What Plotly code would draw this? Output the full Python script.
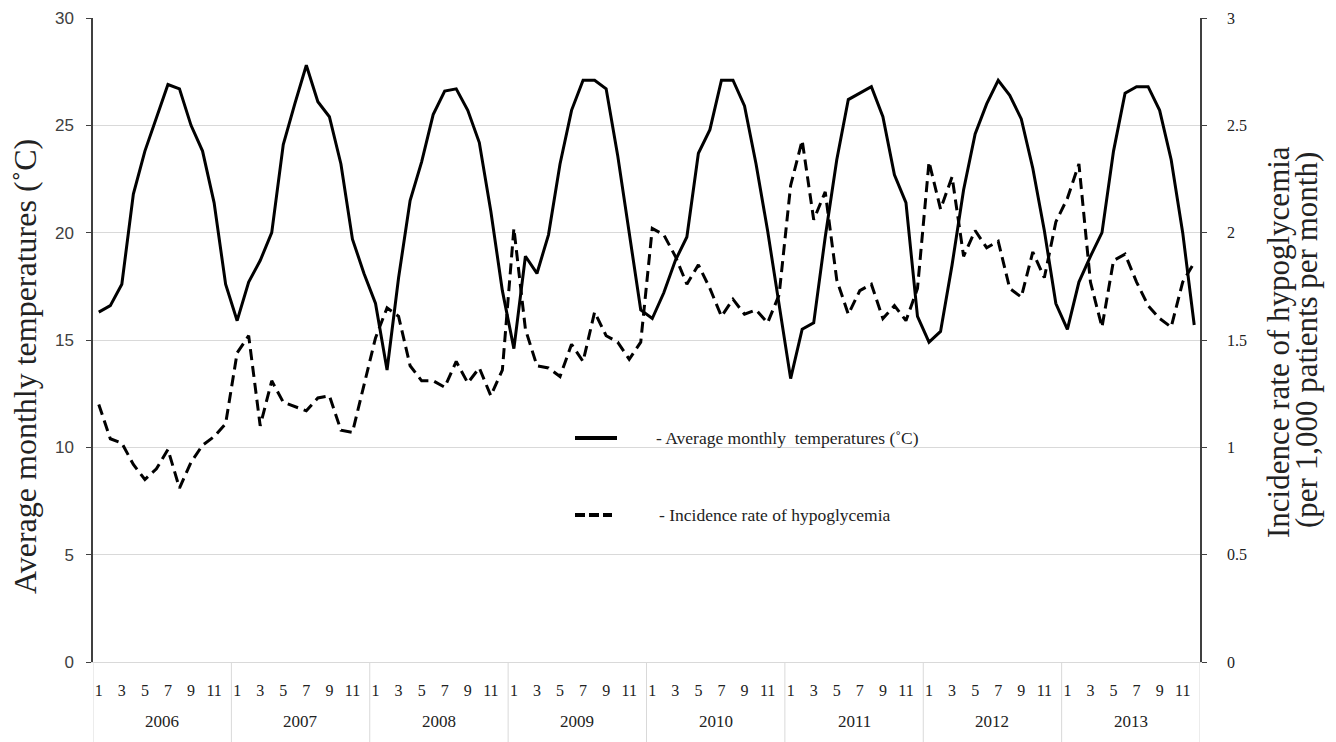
import plotly.graph_objects as go

years = [2006, 2007, 2008, 2009, 2010, 2011, 2012, 2013]
months = list(range(1, 13))

temperature = [
    16.3, 16.6, 17.6, 21.8, 23.8, 25.4, 26.9, 26.7, 25.0, 23.8, 21.4, 17.6,
    15.9, 17.7, 18.7, 20.0, 24.1, 26.0, 27.8, 26.1, 25.4, 23.2, 19.7, 18.1,
    16.7, 13.6, 17.9, 21.5, 23.3, 25.5, 26.6, 26.7, 25.7, 24.2, 21.0, 17.3,
    14.6, 18.9, 18.1, 19.9, 23.2, 25.7, 27.1, 27.1, 26.7, 23.6, 20.1, 16.4,
    16.0, 17.2, 18.7, 19.8, 23.7, 24.8, 27.1, 27.1, 25.9, 23.2, 20.1, 16.7,
    13.2, 15.5, 15.8, 19.8, 23.4, 26.2, 26.5, 26.8, 25.4, 22.7, 21.4, 16.1,
    14.9, 15.4, 18.5, 22.0, 24.6, 26.0, 27.1, 26.4, 25.3, 23.0, 20.1, 16.7,
    15.5, 17.7, 18.9, 20.0, 23.8, 26.5, 26.8, 26.8, 25.7, 23.4, 20.0, 15.7,
]

incidence = [
    1.20, 1.04, 1.02, 0.92, 0.85, 0.90, 0.99, 0.81, 0.93, 1.01, 1.05, 1.11,
    1.44, 1.52, 1.10, 1.31, 1.21, 1.19, 1.17, 1.23, 1.24, 1.08, 1.07, 1.29,
    1.51, 1.65, 1.61, 1.38, 1.31, 1.31, 1.28, 1.40, 1.30, 1.37, 1.24, 1.36,
    2.02, 1.55, 1.38, 1.37, 1.33, 1.48, 1.40, 1.63, 1.52, 1.49, 1.41, 1.49,
    2.02, 1.99, 1.89, 1.76, 1.85, 1.74, 1.61, 1.69, 1.62, 1.64, 1.58, 1.71,
    2.22, 2.43, 2.06, 2.19, 1.78, 1.62, 1.73, 1.76, 1.60, 1.66, 1.59, 1.74,
    2.33, 2.11, 2.26, 1.89, 2.01, 1.93, 1.96, 1.74, 1.70, 1.91, 1.79, 2.05,
    2.16, 2.32, 1.77, 1.56, 1.87, 1.90, 1.77, 1.66, 1.60, 1.56, 1.77, 1.86,
]

temp_name = "- Average monthly  temperatures (˚C)"
inc_name = "- Incidence rate of hypoglycemia"
left_title = "Average monthly temperatures (˚C)"
right_title_1 = "Incidence rate of hypoglycemia"
right_title_2 = "(per 1,000 patients per month)"

n = len(years) * len(months)
xs = list(range(n))
tick_idx = [i for i in xs if months[i % 12] % 2 == 1]
tick_txt = [str(months[i % 12]) for i in tick_idx]

# page has an 8px body margin: work in page pixels, convert to figure pixels
OFF = 8
W, H = 1336, 742
PLOT_L, PLOT_R, PLOT_T, PLOT_B = 93, 1200, 18, 662
ML = PLOT_L - OFF
MR = W - (PLOT_R - OFF)
MT = PLOT_T - OFF
paper_h = H - MT
ydom0 = (H - (PLOT_B - OFF)) / paper_h

def px_x(p):
    return (p - OFF - ML) / (W - ML - MR)

def px_y(p):
    return (H - (p - OFF)) / paper_h

SERIF = "Liberation Serif, Times New Roman, serif"
SANS = "Liberation Sans, Arial, sans-serif"

fig = go.Figure()
fig.add_trace(go.Scatter(x=xs, y=temperature, mode="lines", name=temp_name,
                         line=dict(color="black", width=3), yaxis="y"))
fig.add_trace(go.Scatter(x=xs, y=incidence, mode="lines", name=inc_name,
                         line=dict(color="black", width=3, dash="11px,6px"), yaxis="y2"))

shapes = []
for i in range(len(years) + 1):
    xb = 12 * i - 0.5
    shapes.append(dict(type="line", xref="x", yref="paper", x0=xb, x1=xb,
                       y0=0, y1=ydom0, line=dict(color="#d9d9d9", width=1)))
# legend samples
shapes.append(dict(type="line", xref="paper", yref="paper",
                   x0=px_x(575), x1=px_x(617), y0=px_y(438), y1=px_y(438),
                   line=dict(color="black", width=4)))
shapes.append(dict(type="line", xref="paper", yref="paper",
                   x0=px_x(575), x1=px_x(612), y0=px_y(515), y1=px_y(515),
                   line=dict(color="black", width=4, dash="10px,4px")))

def ann(text, x, y, size, xref="paper", angle=0, xanchor="center"):
    return dict(x=x, y=y, xref=xref, yref="paper", text=text, showarrow=False,
                xanchor=xanchor, yanchor="middle", textangle=angle,
                font=dict(family=SERIF, size=size, color="#222"))

annotations = []
for i, yr in enumerate(years):
    annotations.append(ann(str(yr), 12 * i + 5.5, px_y(721), 17, xref="x"))
annotations.append(ann(temp_name, px_x(654), px_y(438), 17.5, xanchor="left"))
annotations.append(ann(inc_name, px_x(657), px_y(515), 17.5, xanchor="left"))
annotations.append(ann(left_title, px_x(25), px_y(367), 32, angle=-90))
annotations.append(ann(right_title_1, px_x(1278), px_y(342), 31, angle=-90))
annotations.append(ann(right_title_2, px_x(1306), px_y(340), 31, angle=-90))

fig.update_layout(
    width=W, height=H,
    margin=dict(l=ML, r=MR, t=MT, b=0, autoexpand=False),
    paper_bgcolor="white", plot_bgcolor="white",
    showlegend=False,
    xaxis=dict(range=[-0.5, n - 0.5], tickmode="array", tickvals=tick_idx,
               ticktext=tick_txt, showgrid=False, zeroline=False,
               showline=True, linecolor="#d9d9d9", linewidth=1,
               ticks="", ticklabelstandoff=14, automargin=False,
               tickfont=dict(family=SERIF, size=16, color="#222")),
    yaxis=dict(domain=[ydom0, 1], range=[0, 30], dtick=5, showgrid=True,
               gridcolor="#d9d9d9", gridwidth=1, zeroline=False,
               showline=True, linecolor="#404040", linewidth=1.5,
               ticks="outside", ticklen=5, tickcolor="#404040",
               ticklabelstandoff=9, automargin=False,
               tickfont=dict(family=SANS, size=17, color="#404040")),
    yaxis2=dict(overlaying="y", side="right", range=[0, 3], dtick=0.5,
                showgrid=False, zeroline=False,
                showline=True, linecolor="#404040", linewidth=1.5,
                ticks="outside", ticklen=5, tickcolor="#404040",
                ticklabelstandoff=17, automargin=False,
                tickfont=dict(family=SERIF, size=16, color="#222")),
    shapes=shapes,
    annotations=annotations,
)

fig.write_html("out.html")
